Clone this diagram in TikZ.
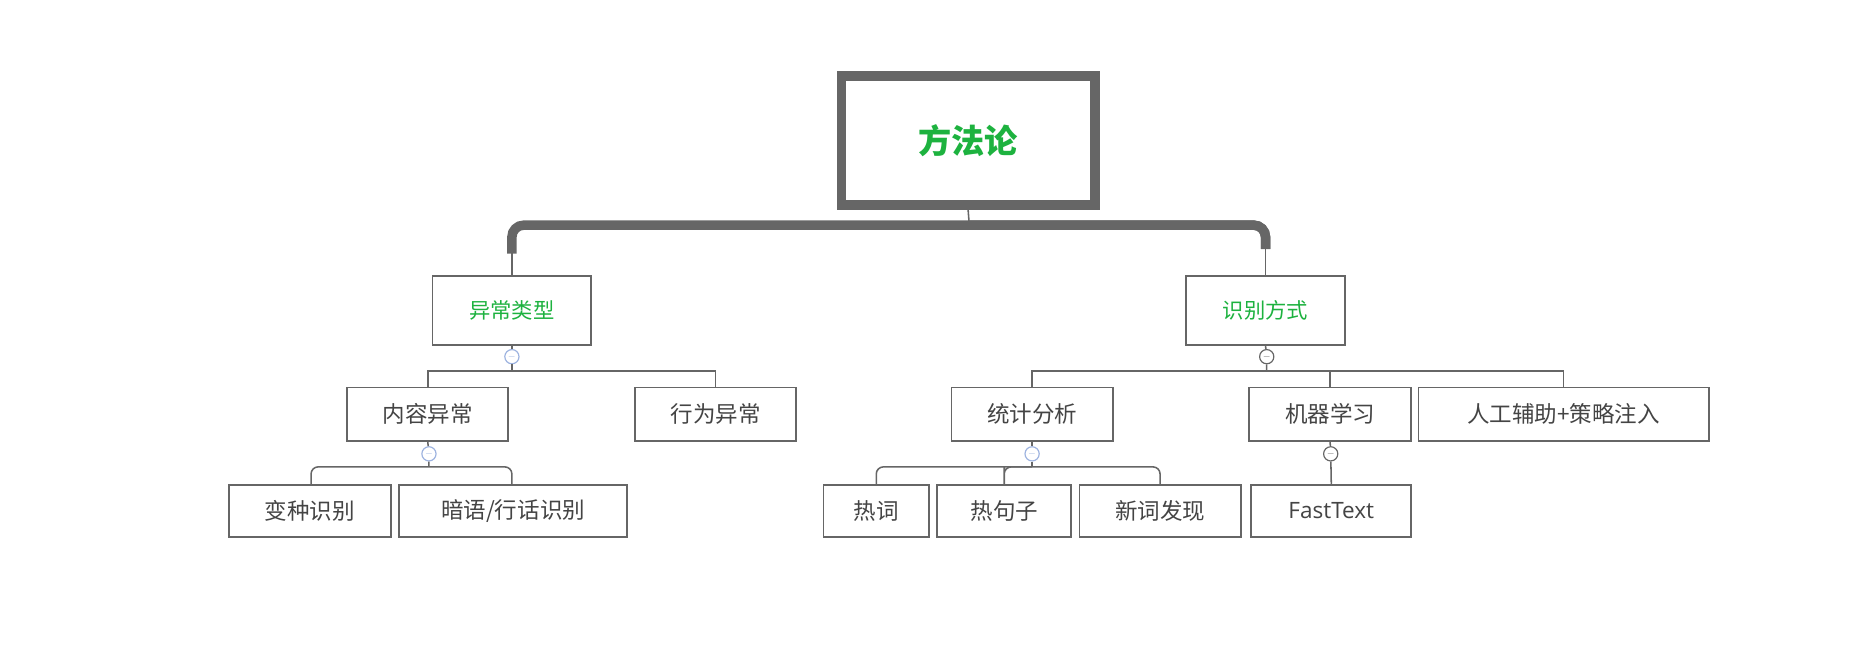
\documentclass[tikz,border=0pt]{standalone}
\usepackage{fontspec}
\setmainfont{Noto Sans CJK SC}
\usetikzlibrary{arrows.meta}
\definecolor{linegray}{HTML}{666666}
\definecolor{txtgray}{HTML}{444444}
\definecolor{topgreen}{HTML}{1DB23F}
\definecolor{foldblue}{HTML}{9DB3E0}

\begin{document}
\begin{tikzpicture}[x=1pt,y=-1pt]
\useasboundingbox (0,0) rectangle (1568,565);

\begin{scope}[every node/.style={draw=linegray,line width=1.5pt,fill=white,inner sep=0pt,font=\fontsize{19}{19}\selectfont,text=txtgray}]
	\node[line width=8pt,minimum width=214pt,minimum height=109pt,font=\fontsize{28}{28}\selectfont\bfseries,text=topgreen] (root) at (817,118.5) {方法论};
	\node[minimum width=134pt,minimum height=58pt,font=\fontsize{18}{18}\selectfont,text=topgreen] (kind) at (432,262) {异常类型};
	\node[minimum width=134pt,minimum height=58pt,font=\fontsize{18}{18}\selectfont,text=topgreen] (way) at (1068,262) {识别方式};
	\node[minimum width=136pt,minimum height=45pt] (content) at (361,349.5) {内容异常};
	\node[minimum width=136pt,minimum height=45pt] (behave) at (604,349.5) {行为异常};
	\node[minimum width=136pt,minimum height=45pt] (stat) at (871,349.5) {统计分析};
	\node[minimum width=137pt,minimum height=45pt] (ml) at (1122.5,349.5) {机器学习};
	\node[minimum width=245pt,minimum height=45pt] (human) at (1319.5,349.5) {人工辅助+策略注入};
	\node[minimum width=137pt,minimum height=44pt] (variant) at (261.5,431) {变种识别};
	\node[minimum width=192pt,minimum height=44pt] (slang) at (433,431) {暗语/行话识别};
	\node[minimum width=89pt,minimum height=44pt] (hot) at (739.5,431) {热词};
	\node[minimum width=113pt,minimum height=44pt] (hotsent) at (847.5,431) {热句子};
	\node[minimum width=136pt,minimum height=44pt] (newword) at (979,431) {新词发现};
	\node[minimum width=135pt,minimum height=44pt,font=\fontsize{19}{19}\selectfont\sffamily] (fast) at (1123.5,431) {\fontspec{Open Sans}FastText};
\end{scope}

% fold buttons
\begin{scope}[every node/.style={circle,draw,fill=white,line width=1pt,minimum size=12pt,inner sep=0pt,font=\fontsize{8}{8}\selectfont}]
	\node[draw=foldblue,text=foldblue] (fk) at (432,301) {$-$};
	\node[draw=linegray,text=linegray] (fw) at (1069,301) {$-$};
	\node[draw=foldblue,text=foldblue] (fc) at (362,383) {$-$};
	\node[draw=foldblue,text=foldblue] (fs) at (871,383) {$-$};
	\node[draw=linegray,text=linegray] (fm) at (1123,383) {$-$};
\end{scope}

\coordinate (bus0) at (818,190);
\coordinate (bus1) at (432,313);
\coordinate (bus2) at (1069,313);
\coordinate (bus3) at (362,394);
\coordinate (bus4) at (871,394);

\begin{scope}[every path/.style={draw=linegray,line width=1.3pt}]
	\path (root.south) -- (bus0);
	\path[line width=8pt,rounded corners=10pt] ([yshift=-4pt]kind.north |- bus0) ++(0,20) |- (bus0) -| ++(250,20);
	\path[line width=8pt,rounded corners=10pt] (bus0) -| ([yshift=22pt]way.north);
	\path (kind.north) -- ++(0,-25);
	\path (way.north) -- ++(0,-25);
	% level 2
	\path (kind.south) -- (fk) -- (bus1);
	\path (content.north) |- (bus1) -| (behave.north);
	\path (way.south) -- (fw) -- (bus2);
	\path (stat.north) |- (bus2) -| (human.north);
	\path (ml.north) -- (ml.north |- bus2);
	% level 3
	\path (content.south) -- (fc) -- (bus3);
	\path[rounded corners=6pt] ([xshift=1pt]variant.north) |- (bus3) -| ([xshift=-1pt]slang.north);
	\path (stat.south) -- (fs) -- (bus4);
	\path[rounded corners=6pt] (hot.north) |- (bus4) -| (newword.north);
	\path[rounded corners=6pt] (hotsent.north) -- ++(0,-8) |- (bus4);
	\path (ml.south) -- (fm) -- (fast.north);
\end{scope}
\end{tikzpicture}
\end{document}
